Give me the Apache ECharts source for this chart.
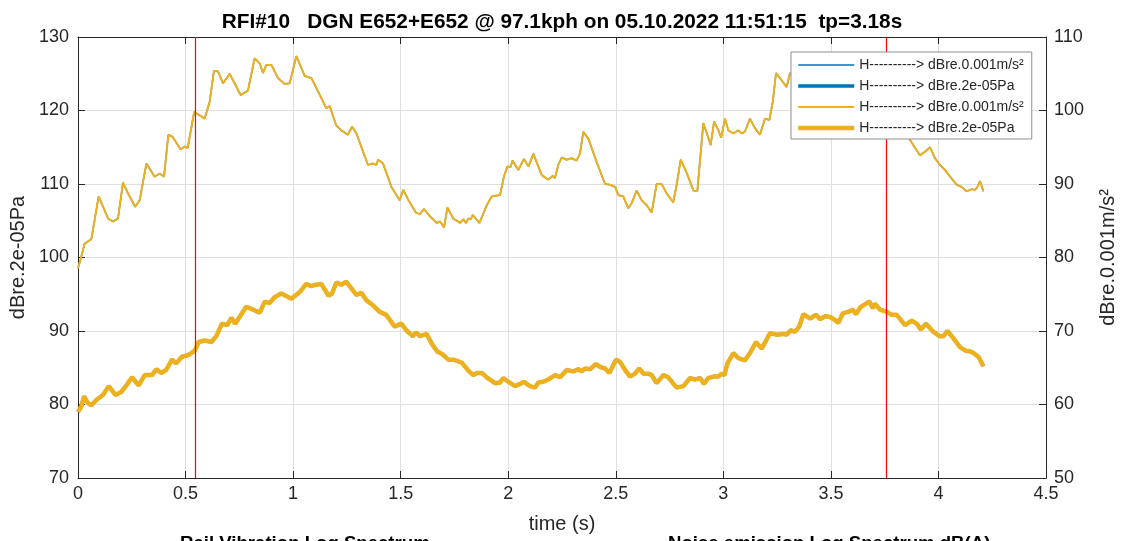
<!DOCTYPE html>
<html>
<head>
<meta charset="utf-8">
<script src="https://cdn.jsdelivr.net/npm/echarts@6/dist/echarts.min.js"></script>
<style>
html,body{margin:0;padding:0;background:#fff;overflow:hidden;width:1124px;height:541px;}
#chart{width:1124px;height:541px;overflow:hidden;}
</style>
</head>
<body>
<div id="chart"></div>
<script>
// ---- data ----
const titleText = 'RFI#10   DGN E652+E652 @ 97.1kph on 05.10.2022 11:51:15  tp=3.18s';
const nameAccel = 'H----------> dBre.0.001m/s\u00B2';
const namePa = 'H----------> dBre.2e-05Pa';
const xTicks = [0, 0.5, 1, 1.5, 2, 2.5, 3, 3.5, 4, 4.5];
const leftTicks = [70, 80, 90, 100, 110, 120, 130];
const rightTicks = [50, 60, 70, 80, 90, 100, 110];
const markerTimes = [0.5462, 3.7585];

// acceleration level (right axis, dBre.0.001m/s²): [time s, value]
const accelCurve = [
[0,78.5],[0.015,80.1],[0.031,81.9],[0.062,82.5],[0.096,88.3],[0.14,85.3],[0.163,84.9],[0.186,85.3],
[0.209,90.2],[0.233,88.7],[0.266,86.9],[0.287,87.8],[0.318,92.8],[0.356,91.0],[0.38,91.4],[0.40,91.0],
[0.42,96.7],[0.44,96.4],[0.477,94.7],[0.496,95.1],[0.51,94.9],[0.54,99.8],[0.589,98.9],[0.612,101.2],
[0.632,105.4],[0.651,105.3],[0.674,103.7],[0.705,105.0],[0.728,103.7],[0.756,102.1],[0.79,102.7],
[0.821,107.1],[0.845,106.4],[0.86,105.1],[0.875,106.2],[0.899,106.2],[0.93,104.4],[0.961,103.6],
[0.984,103.7],[1.015,107.4],[1.054,104.7],[1.085,104.4],[1.116,102.6],[1.154,100.3],[1.17,100.6],
[1.20,98.0],[1.224,97.3],[1.255,96.7],[1.274,97.8],[1.294,96.9],[1.348,92.6],[1.371,92.8],[1.387,92.6],
[1.395,93.3],[1.418,92.8],[1.457,89.6],[1.495,87.8],[1.512,89.2],[1.536,87.8],[1.571,86.1],[1.59,85.9],
[1.608,86.6],[1.636,85.6],[1.668,84.7],[1.683,84.9],[1.702,84.1],[1.717,86.8],[1.745,85.3],[1.776,84.7],
[1.791,85.2],[1.804,84.7],[1.815,85.3],[1.826,85.2],[1.835,85.8],[1.866,84.7],[1.90,87.1],[1.923,88.3],
[1.962,88.5],[1.98,91.0],[1.996,92.4],[2.011,92.3],[2.02,93.2],[2.047,91.9],[2.073,93.4],[2.094,92.4],
[2.117,94.1],[2.156,91.2],[2.186,90.6],[2.207,91.1],[2.217,90.8],[2.233,92.6],[2.249,93.6],[2.272,93.3],
[2.295,93.5],[2.318,93.2],[2.334,94.2],[2.349,97.1],[2.372,96.2],[2.411,93.0],[2.45,90.0],[2.473,89.9],
[2.497,89.6],[2.512,88.5],[2.535,88.3],[2.558,86.7],[2.574,87.4],[2.597,89.1],[2.62,87.8],[2.644,87.1],
[2.667,86.1],[2.69,90.0],[2.713,90.0],[2.737,88.7],[2.767,87.5],[2.783,89.9],[2.802,93.3],[2.83,91.5],
[2.861,89.1],[2.879,89.0],[2.907,98.3],[2.923,96.9],[2.941,95.3],[2.957,98.5],[2.977,97.3],[2.99,96.3],
[3.008,98.9],[3.023,97.3],[3.047,96.9],[3.07,97.3],[3.085,96.9],[3.1,97.1],[3.124,98.9],[3.147,97.6],
[3.17,96.7],[3.194,98.9],[3.214,98.7],[3.23,101.2],[3.245,105.1],[3.271,104.1],[3.294,103.2],[3.31,105.1],
[3.34,104.0],[3.38,105.8],[3.42,104.2],[3.47,105.0],[3.52,103.2],[3.57,104.5],[3.62,102.8],[3.67,101.5],
[3.72,101.0],[3.76,99.8],[3.80,99.0],[3.83,97.8],[3.86,96.4],[3.883,95.3],[3.914,93.9],[3.938,94.4],
[3.961,95.0],[3.984,93.5],[4.007,92.6],[4.031,91.9],[4.054,91.0],[4.085,89.9],[4.108,89.6],[4.131,89.0],
[4.155,89.3],[4.17,89.2],[4.181,89.6],[4.193,90.4],[4.209,89.0]
];

// sound pressure level (left axis, dBre.2e-05Pa): [time s, value]
const paCurve = [
[0,79.0],[0.015,79.7],[0.028,81.1],[0.046,80.2],[0.062,79.9],[0.085,80.6],[0.116,81.3],[0.143,82.5],
[0.174,81.3],[0.201,81.7],[0.225,82.6],[0.251,83.7],[0.282,82.6],[0.31,84.0],[0.344,84.0],[0.364,84.8],
[0.387,84.3],[0.41,84.7],[0.437,86.1],[0.457,85.6],[0.483,86.5],[0.511,86.7],[0.542,87.3],[0.561,88.5],
[0.589,88.7],[0.62,88.5],[0.643,89.3],[0.669,91.0],[0.694,90.8],[0.713,91.8],[0.731,91.0],[0.751,91.9],
[0.782,93.3],[0.814,92.9],[0.845,92.5],[0.868,94.0],[0.891,93.8],[0.914,94.6],[0.945,95.1],[0.992,94.4],
[1.031,95.3],[1.061,96.4],[1.085,96.1],[1.108,96.3],[1.131,96.4],[1.165,94.8],[1.181,95.1],[1.201,96.6],
[1.224,96.3],[1.247,96.7],[1.271,95.8],[1.294,94.9],[1.317,95.2],[1.34,94.2],[1.371,93.5],[1.403,92.6],
[1.433,92.2],[1.472,90.6],[1.503,91.0],[1.526,90.1],[1.556,89.3],[1.571,89.8],[1.59,89.3],[1.621,89.6],
[1.644,88.3],[1.67,87.2],[1.691,86.9],[1.722,86.1],[1.745,86.1],[1.753,86.3],[1.784,85.7],[1.815,84.6],
[1.838,84.0],[1.856,84.3],[1.877,84.3],[1.90,83.7],[1.939,82.9],[1.962,83.0],[1.977,83.6],[2.0,83.1],
[2.032,82.5],[2.055,82.8],[2.073,83.1],[2.101,82.5],[2.125,82.3],[2.14,83.0],[2.163,83.1],[2.186,83.4],
[2.218,84.0],[2.241,83.7],[2.272,84.7],[2.303,84.5],[2.326,84.8],[2.342,84.5],[2.357,84.9],[2.38,84.8],
[2.408,85.5],[2.427,85.1],[2.45,84.9],[2.47,84.3],[2.501,86.1],[2.52,85.8],[2.543,84.7],[2.566,83.8],
[2.589,84.2],[2.609,84.9],[2.628,84.2],[2.651,84.2],[2.667,84.0],[2.69,82.9],[2.721,84.0],[2.744,83.7],
[2.783,82.3],[2.814,82.5],[2.845,83.6],[2.868,83.4],[2.892,83.6],[2.91,82.8],[2.93,83.6],[2.954,83.8],
[2.977,83.8],[2.992,84.2],[3.005,84.0],[3.019,85.6],[3.047,87.0],[3.07,86.3],[3.1,86.0],[3.124,87.0],
[3.152,88.5],[3.178,87.6],[3.217,89.7],[3.248,89.5],[3.279,89.6],[3.294,89.5],[3.313,90.1],[3.333,89.9],
[3.353,90.6],[3.372,92.3],[3.403,91.7],[3.431,92.2],[3.45,91.6],[3.473,92.0],[3.496,91.9],[3.519,91.5],
[3.535,91.1],[3.555,92.4],[3.581,92.6],[3.601,92.9],[3.617,92.3],[3.636,93.2],[3.667,93.8],[3.679,94.0],
[3.695,93.1],[3.705,93.7],[3.728,92.9],[3.76,92.6],[3.783,92.2],[3.806,92.2],[3.845,90.8],[3.876,91.4],
[3.899,91.0],[3.918,90.2],[3.942,91.0],[3.976,89.9],[4.005,89.3],[4.023,89.3],[4.042,90.0],[4.07,89.0],
[4.1,87.8],[4.128,87.3],[4.15,87.2],[4.163,87.0],[4.186,86.5],[4.209,85.2]
];

// ---- chart ----
const FONT = '"Liberation Sans", Arial, Helvetica, sans-serif';
const TXT = '#262626';
const BLUE = '#0072BD';
const YELLOW = '#EDB120';
const ZW = '\u200B'; // keeps legend entries distinct while text looks identical
const yMin = leftTicks[0], yMax = leftTicks[leftTicks.length - 1];

const chart = echarts.init(document.getElementById('chart'), null, {renderer: 'canvas', width: 1124, height: 541});

function lineSeries(name, data, color, width, yIdx, z) {
  return {
    name: name, type: 'line', data: data, yAxisIndex: yIdx, xAxisIndex: 0,
    showSymbol: false, symbol: 'none', animation: false, silent: true, z: z || 2,
    lineStyle: {color: color, width: width}, itemStyle: {color: color}
  };
}

const markerSeries = markerTimes.map((t, i) => ({
  name: 'marker' + i, type: 'line', xAxisIndex: 0, yAxisIndex: 0,
  data: [[t, yMin], [t, yMax]], showSymbol: false, symbol: 'none',
  animation: false, silent: true, z: 5,
  lineStyle: {color: '#ff0000', width: 1.2}, itemStyle: {color: '#ff0000'}
}));

const option = {
  animation: false,
  backgroundColor: '#ffffff',
  title: {
    text: titleText, left: 'center', top: 7,
    textStyle: {fontFamily: FONT, fontSize: 20.8, fontWeight: 'bold', color: '#000'}
  },
  grid: {left: 78, right: 78, top: 37, bottom: 63, containLabel: false, outerBoundsMode: 'none'},
  legend: {
    orient: 'vertical', left: 791, top: 52,
    padding: [6, 8, 4, 5], itemGap: 7, itemWidth: 56, itemHeight: 14,
    backgroundColor: '#ffffff', borderColor: '#8f8f8f', borderWidth: 1,
    textStyle: {fontFamily: FONT, fontSize: 14, color: TXT},
    lineStyle: {width: 'inherit'},
    itemStyle: {opacity: 0},
    z: 10,
    data: [nameAccel, namePa, nameAccel + ZW, namePa + ZW]
  },
  xAxis: [{
    type: 'value', min: 0, max: 4.5, interval: 0.5, position: 'bottom',
    name: 'time (s)', nameLocation: 'middle', nameGap: 36,
    nameTextStyle: {fontFamily: FONT, fontSize: 20, color: TXT},
    axisLine: {show: true, onZero: false, lineStyle: {color: TXT, width: 1}},
    axisTick: {show: true, inside: true, length: 7, lineStyle: {color: TXT}},
    axisLabel: {fontFamily: FONT, fontSize: 18, color: TXT, margin: 7,
      formatter: v => xTicks.includes(+v.toFixed(2)) ? String(+v.toFixed(2)) : ''},
    splitLine: {show: true, lineStyle: {color: '#dfdfdf', width: 1}}
  }, {
    type: 'value', min: 0, max: 4.5, interval: 0.5, position: 'top',
    axisLine: {show: true, onZero: false, lineStyle: {color: TXT, width: 1}},
    axisTick: {show: true, inside: true, length: 7, lineStyle: {color: TXT}},
    axisLabel: {show: false}, splitLine: {show: false}
  }],
  yAxis: [{
    type: 'value', min: yMin, max: yMax, interval: 10, position: 'left',
    name: 'dBre.2e-05Pa', nameLocation: 'middle', nameGap: 49, nameRotate: 90,
    nameTextStyle: {fontFamily: FONT, fontSize: 20, color: TXT},
    axisLine: {show: true, onZero: false, lineStyle: {color: TXT, width: 1}},
    axisTick: {show: true, inside: true, length: 7, lineStyle: {color: TXT}},
    axisLabel: {fontFamily: FONT, fontSize: 18, color: TXT, margin: 9},
    splitLine: {show: true, lineStyle: {color: '#dfdfdf', width: 1}}
  }, {
    type: 'value', min: rightTicks[0], max: rightTicks[rightTicks.length - 1], interval: 10, position: 'right',
    name: 'dBre.0.001m/s\u00B2', nameLocation: 'middle', nameGap: 52, nameRotate: 90,
    nameTextStyle: {fontFamily: FONT, fontSize: 20, color: TXT},
    axisLine: {show: true, onZero: false, lineStyle: {color: TXT, width: 1}},
    axisTick: {show: true, inside: true, length: 7, lineStyle: {color: TXT}},
    axisLabel: {fontFamily: FONT, fontSize: 18, color: TXT, margin: 8},
    splitLine: {show: false}
  }],
  series: [
    lineSeries(nameAccel, accelCurve, BLUE, 1.5, 1, 2),
    lineSeries(namePa, paCurve, BLUE, 3.5, 0, 2),
    lineSeries(nameAccel + ZW, accelCurve, YELLOW, 2, 1, 3),
    lineSeries(namePa + ZW, paCurve, YELLOW, 4.5, 0, 3)
  ].concat(markerSeries),
  graphic: [
    {type: 'text', left: 180, top: 534, style: {text: 'Rail Vibration Log Spectrum', fontFamily: FONT, fontSize: 18.6, fontWeight: 'bold', fill: '#000'}},
    {type: 'text', left: 668, top: 534, style: {text: 'Noise emission Log Spectrum dB(A)', fontFamily: FONT, fontSize: 18.6, fontWeight: 'bold', fill: '#000'}}
  ]
};
chart.setOption(option);
</script>
</body>
</html>
